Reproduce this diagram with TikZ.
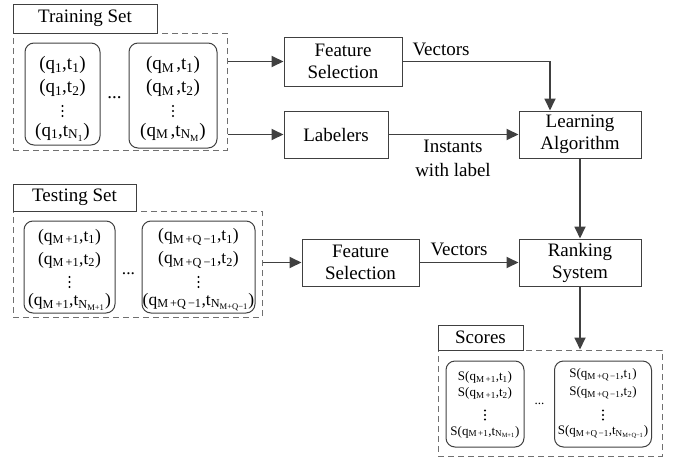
\documentclass[tikz,border=0pt]{standalone}
\usepackage{fontspec}
\setmainfont{Liberation Serif}
\usetikzlibrary{arrows.meta}

\definecolor{linec}{HTML}{404040}
\definecolor{dashc}{HTML}{707070}

% (q_a, t_b) pair and its score
\newcommand{\qtpair}[2]{(q\textsubscript{#1},t\textsubscript{#2})}
\newcommand{\qtscore}[2]{S(q\textsubscript{#1},t\textsubscript{#2})}
% vertical ellipsis drawn as three dots centred at (x,y) with given gap
\newcommand{\vdts}[3]{\fill[black] (#1,#2-#3) circle (1.1pt) (#1,#2) circle (1.1pt) (#1,#2+#3) circle (1.1pt);}

\begin{document}
\begin{tikzpicture}[x=1pt,y=-1pt,
  proc/.style={draw=linec, line width=1pt, fill=white, inner sep=0pt,
    align=center, font=\fontsize{19}{22}\selectfont},
  grp/.style={draw=dashc, line width=1pt, dash pattern=on 6pt off 4pt, inner sep=0pt},
  itembox/.style={draw=linec, line width=1pt, rounded corners=9pt, inner sep=0pt},
  itemA/.style={inner sep=0pt, font=\fontsize{19}{22}\selectfont},
  itemB/.style={inner sep=0pt, font=\fontsize{17.5}{20}\selectfont},
  itemC/.style={inner sep=0pt, font=\fontsize{13}{16}\selectfont},
  lbl/.style={inner sep=0pt, font=\fontsize{19}{22}\selectfont},
  flow/.style={draw=linec, line width=1.8pt, -{Triangle[length=12pt,width=11pt]}}
]
\useasboundingbox (0,0) rectangle (683,458);

% ---------- training set ----------
\node[grp, minimum width=214pt, minimum height=117pt] (train) at (120,91.5) {};
\node[proc, minimum width=144pt, minimum height=29pt] (traintag) at (85,18.5) {Training Set};
\node[itembox, minimum width=75pt, minimum height=102pt] (tr1) at (62.5,94) {};
\node[itembox, minimum width=88pt, minimum height=105pt] (tr2) at (173,95.5) {};
\node[itemA] (tr1a) at (62.5,65) {\qtpair{1}{1}};
\node[itemA] (tr1b) at (62.5,88) {\qtpair{1}{2}};
\vdts{62.5}{111}{5}
\node[itemA] (tr1d) at (62.5,132) {\qtpair{1}{N\textsubscript{1}}};
\node[itemA] (tr2a) at (173,65) {\qtpair{M\,}{1}};
\node[itemA] (tr2b) at (173,88) {\qtpair{M\,}{2}};
\vdts{173}{111}{5}
\node[itemA] (tr2d) at (173,132) {\qtpair{M\,}{N\textsubscript{M}}};
\node[itemA] (trdots) at (114.5,98) {...};

% ---------- testing set ----------
\node[grp, minimum width=249pt, minimum height=106pt] (test) at (137.5,264) {};
\node[proc, minimum width=123pt, minimum height=27pt] (testtag) at (74.5,197.5) {Testing Set};
\node[itembox, minimum width=91pt, minimum height=92pt] (te1) at (69.5,267) {};
\node[itembox, minimum width=113pt, minimum height=92pt] (te2) at (198.5,267) {};
\node[itemB] (te1a) at (69.5,237) {\qtpair{M\,+1}{1}};
\node[itemB] (te1b) at (69.5,260) {\qtpair{M\,+1}{2}};
\vdts{69.5}{282}{5}
\node[itemB] (te1d) at (69.5,302) {\qtpair{M\,+1}{N\textsubscript{M+1}}};
\node[itemB] (te2a) at (198.5,237) {\qtpair{M\,+Q\,−1}{1}};
\node[itemB] (te2b) at (198.5,260) {\qtpair{M\,+Q\,−1}{2}};
\vdts{198.5}{282}{5}
\node[itemB] (te2d) at (198.5,302) {\qtpair{M\,+Q\,−1}{N\textsubscript{M+Q−1}}};
\node[itemB] (tedots) at (128.5,274) {...};

% ---------- scores ----------
\node[grp, minimum width=224pt, minimum height=106pt] (scores) at (550,403) {};
\node[proc, minimum width=85pt, minimum height=25pt] (scoretag) at (480.5,337.5) {Scores};
\node[itembox, minimum width=78pt, minimum height=86pt] (sc1) at (485,404) {};
\node[itembox, minimum width=97pt, minimum height=86pt] (sc2) at (603,404) {};
\node[itemC] (sc1a) at (485,377) {\qtscore{M\,+1}{1}};
\node[itemC] (sc1b) at (485,393) {\qtscore{M\,+1}{2}};
\vdts{485}{415}{4.5}
\node[itemC] (sc1d) at (485,432) {\qtscore{M\,+1}{N\textsubscript{M+1}}};
\node[itemC] (sc2a) at (603,375) {\qtscore{M\,+Q\,−1}{1}};
\node[itemC] (sc2b) at (603,393) {\qtscore{M\,+Q\,−1}{2}};
\vdts{603}{415}{4.5}
\node[itemC] (sc2d) at (603,432) {\qtscore{M\,+Q\,−1}{N\textsubscript{M+Q−1}}};
\node[itemC] (scdots) at (539.5,404) {...};

% ---------- processing blocks ----------
\node[proc, minimum width=118pt, minimum height=49pt] (fs1) at (343,61.5) {Feature\\Selection};
\node[proc, minimum width=104pt, minimum height=47pt] (lab) at (336,134.5) {Labelers};
\node[proc, minimum width=122pt, minimum height=47pt] (learn) at (580,134.5) {Learning\\Algorithm};
\node[proc, minimum width=117pt, minimum height=47pt] (fs2) at (360.5,262.5) {Feature\\Selection};
\node[proc, minimum width=122pt, minimum height=47pt] (rank) at (580,262.5) {Ranking\\System};

\coordinate (bend) at (550,61.5);

% ---------- connectors ----------
\draw[flow] (fs1.west -| train.east) -- (fs1.west);
\draw[flow] (lab.west -| train.east) -- (lab.west);
\draw[flow] (fs1.east) -- (bend) -- (bend |- learn.north);
\draw[flow] (lab.east) -- (lab.east -| learn.west);
\draw[flow] (learn.south) -- (rank.north);
\draw[flow] (fs2.west -| test.east) -- (fs2.west);
\draw[flow] (fs2.east) -- (rank.west);
\draw[flow] (rank.south) -- (rank.south |- scores.north);

% ---------- connector labels ----------
\node[lbl] (vec1) at (441,49) {Vectors};
\node[lbl] (inst) at (453,146) {Instants};
\node[lbl] (withlab) at (453,170) {with label};
\node[lbl] (vec2) at (459,249) {Vectors};
\end{tikzpicture}
\end{document}
